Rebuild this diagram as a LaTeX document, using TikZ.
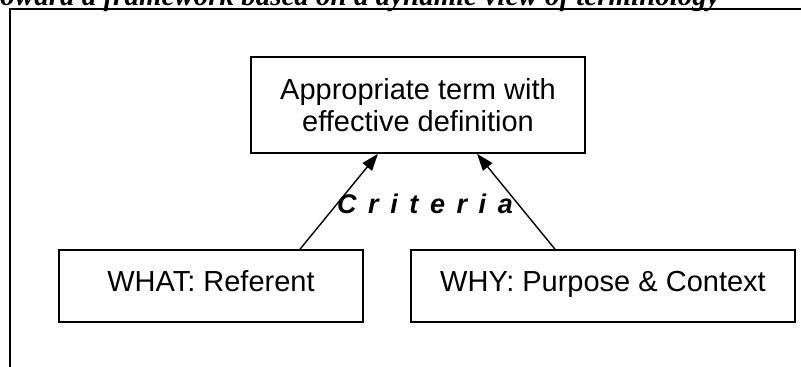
\documentclass[tikz,border=0pt]{standalone}
\usepackage{fontspec}
\setmainfont{Liberation Serif}
\setsansfont{Liberation Sans}
\usetikzlibrary{arrows.meta}
\tikzset{
  frameline/.style={line width=2pt},
  box/.style={draw, line width=1.6pt, font=\sffamily\fontsize{29}{32}\selectfont,
    align=center, inner sep=0pt},
  link/.style={line width=1.4pt, -{Triangle[length=17pt,width=12pt]}},
}
\begin{document}
\begin{tikzpicture}[x=1pt, y=-1pt]
  \useasboundingbox (0,0) rectangle (801,367);
  \begin{scope}
    \clip (0,0) rectangle (801,367);
    % caption line, mostly outside the page
    \node[anchor=base east, inner sep=0pt, font=\rmfamily\bfseries\itshape\fontsize{29}{32}\selectfont]
      (caption) at (720,5) {Toward a framework based on a dynamic view of terminology};
    % open frame: left and top edges only
    \coordinate (frametop) at (801,9);
    \coordinate (framecorner) at (10,9);
    \coordinate (framebottom) at (10,370);
    \draw[frameline] (frametop) -- (framecorner) -- (framebottom);
  \end{scope}

  \node[box, minimum width=334pt, minimum height=96pt] (term) at (418,105)
    {Appropriate term with\\effective definition};
  \node[box, minimum width=304pt, minimum height=72pt, text depth=10pt] (what) at (211,286)
    {WHAT: Referent};
  \node[box, minimum width=384pt, minimum height=72pt, text depth=10pt] (why) at (603,286)
    {WHY: Purpose \& Context};

  \draw[link] ([xshift=89pt]what.north) -- ([xshift=-40pt]term.south);
  \draw[link] ([xshift=-48pt]why.north) -- ([xshift=59pt]term.south);

  \node[anchor=base, inner sep=0pt,
        font=\sffamily\bfseries\itshape\fontsize{27}{30}\selectfont]
    (criteria) at (425,213) {\spaceskip=11.6pt\relax C r i t e r i a};
\end{tikzpicture}
\end{document}
